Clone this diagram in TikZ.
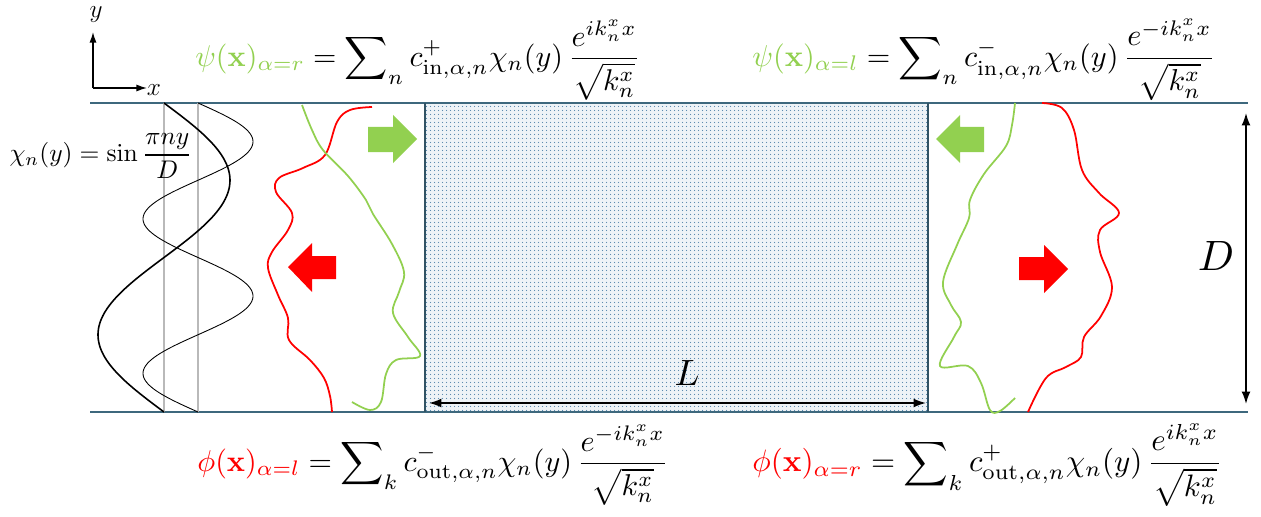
\documentclass[tikz,border=0pt]{standalone}
\usepackage{amsmath}
\usepackage{graphicx}
\usetikzlibrary{arrows.meta,patterns}
\definecolor{lgreen}{HTML}{92D050}
\definecolor{wall}{RGB}{62,104,125}
\definecolor{dotc}{RGB}{80,130,170}
\definecolor{slabfill}{RGB}{238,243,247}
\pgfdeclarepatternformonly{finedots}{\pgfpointorigin}{\pgfpoint{2pt}{2pt}}{\pgfpoint{2pt}{2pt}}{%
  \pgfpathcircle{\pgfpoint{1pt}{1pt}}{0.38pt}\pgfusepath{fill}}
\begin{document}
\begin{tikzpicture}[x=0.02cm,y=-0.02cm,
  wallline/.style={draw=wall,line width=1.1pt},
  slabwall/.style={draw=wall!80!black,line width=1.2pt},
  dimarrow/.style={{Latex[length=7pt,width=5pt]}-{Latex[length=7pt,width=5pt]},line width=0.9pt},
  axisarrow/.style={-{Latex[length=6pt,width=4pt]},line width=0.8pt},
  guide/.style={draw=gray!55,line width=0.6pt},
  modeA/.style={draw=black,line width=0.9pt},
  modeB/.style={draw=black,line width=0.5pt},
  wavered/.style={draw=red,line width=1pt},
  wavegreen/.style={draw=lgreen,line width=1pt},
  blockg/.style={fill=lgreen,draw=none},
  blockr/.style={fill=red,draw=none},
  eq/.style={anchor=west,inner sep=0pt},
  lbl/.style={inner sep=0pt}]
\useasboundingbox (0,0) rectangle (1261,517);

% slab
\fill[slabfill] (425,103) rectangle (928,412);
\fill[pattern=finedots,pattern color=dotc] (425,103) rectangle (928,412);
\node[inner sep=0pt,minimum width=10.06cm,minimum height=6.18cm] (slab) at (676.5,257.5) {};

% walls
\coordinate (tl) at (90,103);
\coordinate (tr) at (1248,103);
\coordinate (bl) at (90,412);
\coordinate (br) at (1248,412);
\draw[wallline] (tl) -- (tr);
\draw[wallline] (bl) -- (br);
\draw[slabwall] (slab.north west) -- (slab.south west);
\draw[slabwall] (slab.north east) -- (slab.south east);

% axes
\coordinate (o) at (93,88);
\coordinate (ay) at (93,32);
\coordinate (ax) at (147,88);
\draw[axisarrow] (o) -- (ay);
\draw[axisarrow] (o) -- (ax);
\node[lbl] (ylab) at (96,15) {\Large $y$};
\node[lbl] (xlab) at (154,90) {\Large $x$};

% transverse modes
\draw[guide] (164,103) -- (164,412);
\draw[guide] (198,103) -- (198,412);
\draw[modeA] plot[domain=0:309,samples=120,smooth] ({164+66*sin(1.16505*\x)},{103+\x});
\draw[modeB] plot[domain=0:309,samples=160,smooth] ({198+55*sin(2.33010*\x)},{103+\x});
\node[lbl] (chi) at (101,156) {\resizebox{3.66cm}{!}{$\chi_n(y)=\sin\dfrac{\pi n y}{D}$}};

% left waves
\draw[wavered] plot[smooth,tension=0.6] coordinates {(372,107) (350,110) (337,122) (325,155) (303,168) (279,178) (276,192) (292,213) (288,230) (272,252) (268,268) (278,295) (288,318) (289,340) (310,360) (324,378) (330,396) (332,412)};
\draw[wavegreen] plot[smooth,tension=0.6] coordinates {(302,105) (312,130) (323,150) (348,176) (366,200) (373,214) (392,244) (404,272) (399,292) (393,313) (408,337) (420,356) (396,360) (386,374) (381,402) (370,410) (352,402)};

% right waves
\draw[wavegreen] plot[smooth,tension=0.6] coordinates {(1015,103) (1012,125) (1006,146) (984,174) (970,200) (969,218) (957,245) (943,282) (951,305) (961,322) (954,337) (940,366) (968,366) (981,383) (990,410) (1000,411) (1015,398)};
\draw[wavered] plot[smooth,tension=0.6] coordinates {(1042,103) (1062,108) (1074,130) (1082,170) (1099,193) (1119,213) (1100,230) (1100,252) (1112,287) (1101,316) (1084,337) (1081,357) (1066,367) (1046,378) (1028,412)};

% block arrows
\fill[blockg] (368,127) -- (393,127) -- (393,115) -- (417,139) -- (393,163) -- (393,152) -- (368,152) -- cycle;
\fill[blockr] (336,256) -- (312,256) -- (312,243) -- (288,267) -- (312,292) -- (312,279) -- (336,279) -- cycle;
\fill[blockg] (984,127) -- (960,127) -- (960,115) -- (936,139) -- (960,163) -- (960,152) -- (984,152) -- cycle;
\fill[blockr] (1019,257) -- (1044,257) -- (1044,245) -- (1068,269) -- (1044,293) -- (1044,280) -- (1019,280) -- cycle;

% dimensions
\coordinate (la) at (429,403);
\coordinate (lb) at (926,403);
\draw[dimarrow] (la) -- (lb);
\node[lbl] (Llab) at (687,373) {\resizebox{!}{0.5cm}{$L$}};
\coordinate (da) at (1246,113);
\coordinate (db) at (1246,404);
\draw[dimarrow] (da) -- (db);
\node[lbl] (Dlab) at (1216,256) {\resizebox{!}{0.58cm}{$D$}};

% equations
\node[eq] (psir) at (195,60) {\resizebox{8.9cm}{!}{$\displaystyle {\color{lgreen}\psi(\mathbf{x})_{\alpha=r}}=\sum\nolimits_n c^{+}_{\mathrm{in},\alpha,n}\chi_n(y)\,\frac{e^{ik^x_n x}}{\sqrt{k^x_n}}$}};
\node[eq] (psil) at (752,60) {\resizebox{9.26cm}{!}{$\displaystyle {\color{lgreen}\psi(\mathbf{x})_{\alpha=l}}=\sum\nolimits_n c^{-}_{\mathrm{in},\alpha,n}\chi_n(y)\,\frac{e^{-ik^x_n x}}{\sqrt{k^x_n}}$}};
\node[eq] (phil) at (197,465) {\resizebox{9.42cm}{!}{$\displaystyle {\color{red}\phi(\mathbf{x})_{\alpha=l}}=\sum\nolimits_k c^{-}_{\mathrm{out},\alpha,n}\chi_n(y)\,\frac{e^{-ik^x_n x}}{\sqrt{k^x_n}}$}};
\node[eq] (phir) at (752,465) {\resizebox{9.4cm}{!}{$\displaystyle {\color{red}\phi(\mathbf{x})_{\alpha=r}}=\sum\nolimits_k c^{+}_{\mathrm{out},\alpha,n}\chi_n(y)\,\frac{e^{ik^x_n x}}{\sqrt{k^x_n}}$}};
\end{tikzpicture}
\end{document}
